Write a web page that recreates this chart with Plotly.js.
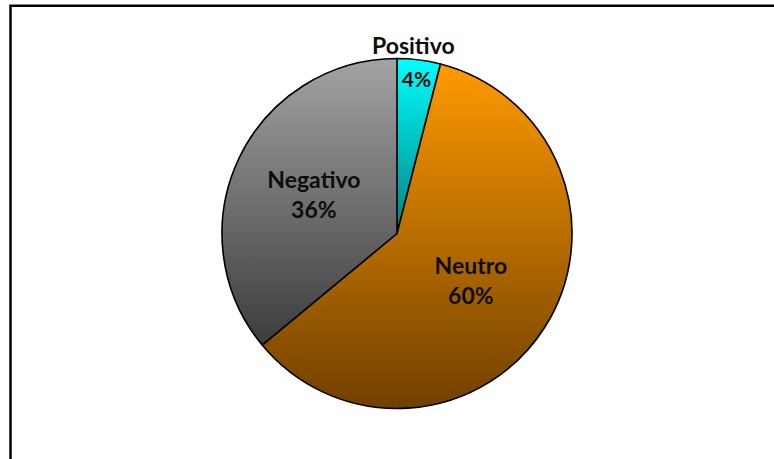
<!DOCTYPE html>
<html>
<head>
<meta charset="utf-8">
<script src="https://cdn.plot.ly/plotly-3.0.1.min.js"></script>
<style>
  html, body { margin: 0; padding: 0; background: #ffffff; }
  #chart { width: 774px; height: 459px; }
</style>
</head>
<body>
<div id="chart"></div>
<script>
// ---- data ----
const labels = ['Positivo', 'Neutro', 'Negativo'];
const values = [4, 60, 36];

// ---- styles ----
const baseColors = ['#00D8D8', '#C07200', '#707070'];
const gradTop = ['#00FFFF', '#FF9A00', '#A3A3A3'];
const gradBottom = ['#008080', '#704000', '#3C3C3C'];

const W = 774, H = 459;
const cx = 397, cy = 233.5, R = 175;
const domain = {
  x: [(cx - R) / W, (cx + R) / W],
  y: [(H - cy - R) / H, (H - cy + R) / H]
};
const font = { family: 'Lato, "Open Sans", sans-serif', size: 23, color: '#0d0d0d', weight: 700 };

const pieMain = {
  type: 'pie',
  labels: labels,
  values: values,
  sort: false,
  direction: 'clockwise',
  rotation: 0,
  domain: domain,
  marker: { colors: baseColors, line: { color: '#000000', width: 1.6 } },
  texttemplate: ['%{percent:.0%}', '%{label}<br>%{percent:.0%}', '%{label}<br>%{percent:.0%}'],
  textposition: 'inside',
  insidetextorientation: 'horizontal',
  textfont: font,
  hoverinfo: 'skip',
  showlegend: false
};

const layout = {
  width: W,
  height: H,
  margin: { l: 0, r: 0, t: 0, b: 0 },
  paper_bgcolor: '#ffffff',
  showlegend: false,
  annotations: [{
    xref: 'paper', yref: 'paper',
    x: 413 / W, y: 1 - 45 / H,
    xanchor: 'center', yanchor: 'middle',
    text: labels[0],
    showarrow: false,
    font: font
  }],
  shapes: [{
    type: 'rect', xref: 'paper', yref: 'paper',
    x0: 10.5 / W, x1: 1.05, y0: -0.05, y1: 1 - 5.8 / H,
    line: { color: '#000000', width: 2.5 },
    fillcolor: 'rgba(0,0,0,0)'
  }]
};

Plotly.newPlot('chart', [pieMain], layout, { staticPlot: true, displayModeBar: false }).then(function (gd) {
  const ns = 'http://www.w3.org/2000/svg';
  const svg = gd.querySelector('svg.main-svg');
  let defs = svg.querySelector('defs');
  if (!defs) { defs = document.createElementNS(ns, 'defs'); svg.insertBefore(defs, svg.firstChild); }
  gradTop.forEach(function (top, i) {
    const lg = document.createElementNS(ns, 'linearGradient');
    lg.setAttribute('id', 'sliceGrad' + i);
    lg.setAttribute('x1', '0'); lg.setAttribute('y1', '0');
    lg.setAttribute('x2', '0'); lg.setAttribute('y2', '1');
    const s1 = document.createElementNS(ns, 'stop');
    s1.setAttribute('offset', '0'); s1.setAttribute('stop-color', top);
    const s2 = document.createElementNS(ns, 'stop');
    s2.setAttribute('offset', '1'); s2.setAttribute('stop-color', gradBottom[i]);
    lg.appendChild(s1); lg.appendChild(s2);
    defs.appendChild(lg);
  });
  const traces = gd.querySelectorAll('.pielayer .trace');
  if (traces.length) {
    const surfaces = traces[0].querySelectorAll('.slice path.surface');
    surfaces.forEach(function (p, i) {
      p.style.fill = 'url(#sliceGrad' + i + ')';
      p.style.fillOpacity = 1;
    });
  }
});
</script>
</body>
</html>
